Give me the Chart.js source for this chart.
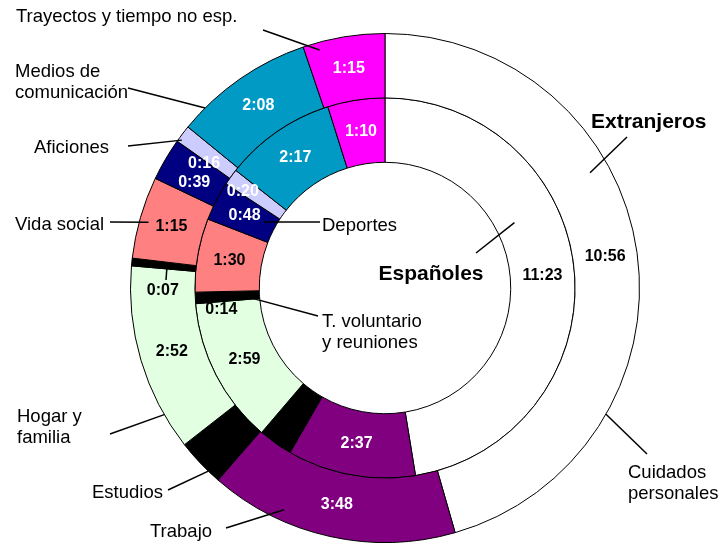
<!DOCTYPE html>
<html>
<head>
<meta charset="utf-8">
<script src="https://cdn.jsdelivr.net/npm/chart.js@4.4.1/dist/chart.umd.min.js"></script>
<style>
  html, body { margin: 0; padding: 0; background: #fff; }
  #wrap { width: 720px; height: 544px; position: relative; }
</style>
</head>
<body>
<div id="wrap"><canvas id="grafico"></canvas></div>
<script>
// Minutos por día (Extranjeros = anillo exterior, Españoles = anillo interior)
var categorias = ['Cuidados personales', 'Trabajo', 'Estudios', 'Hogar y familia',
    'T. voluntario y reuniones', 'Vida social', 'Deportes', 'Aficiones',
    'Medios de comunicación', 'Trayectos y tiempo no esp.'];
var extranjeros = [656, 228, 44, 172, 7, 75, 39, 16, 128, 75];
var espanoles = [683, 157, 42, 179, 14, 90, 48, 20, 137, 70];
var colores = ['#FFFFFF', '#800080', '#000000', '#E2FFE2', '#000000',
    '#FF8080', '#000080', '#CCCCFF', '#009AC4', '#FF00FF'];
// color del texto del valor; null = sin etiqueta
var colorTexto = ['#000', '#fff', null, '#000', '#000', '#000', '#fff', '#fff', '#fff', '#fff'];

// desplazamientos de etiquetas que Excel movió fuera del sector
var ajusteExt = { 4: [-1, 25], 6: [1, 7], 7: [-4, 10] };
var ajusteEsp = { 4: [-6, 13], 7: [-14, -4] };

// anotaciones: anillo, índice, fracción de ángulo y radial del punto en el sector, extremo del lado del texto
var notas = [
    { ds: 0, i: 9, fa: 0.18, fr: 0.88, lx: 263, ly: 30, lineas: ['Trayectos y tiempo no esp.'], tx: 16, ty: 17, al: 'left' },
    { ds: 0, i: 8, fa: 0.18, fr: 1.0, lx: 128, ly: 88, lineas: ['Medios de', 'comunicación'], tx: 15, ty: 72, al: 'left' },
    { ds: 0, i: 7, fa: 0.2, fr: 0.95, lx: 128, ly: 146, lineas: ['Aficiones'], tx: 34, ty: 148, al: 'left' },
    { ds: 0, i: 5, fa: 0.47, fr: 0.86, lx: 110, ly: 222, lineas: ['Vida social'], tx: 15, ty: 225, al: 'left' },
    { ds: 1, i: 6, fa: 0.61, fr: 0.19, lx: 320, ly: 222, lineas: ['Deportes'], tx: 322, ty: 226, al: 'left' },
    { ds: 1, i: 4, fa: 0.45, fr: 0.25, lx: 318, ly: 316, lineas: ['T. voluntario', 'y reuniones'], tx: 322, ty: 322, al: 'left' },
    { ds: 0, i: 4, fa: 0.5, fr: 0.45, lx: 166, ly: 280, lineas: [], tx: 0, ty: 0, al: 'left' },
    { ds: 0, i: 3, fa: 0.19, fr: 1.0, lx: 110, ly: 434, lineas: ['Hogar y', 'familia'], tx: 17, ty: 417, al: 'left' },
    { ds: 0, i: 2, fa: 0.27, fr: 1.0, lx: 168, ly: 490, lineas: ['Estudios'], tx: 92, ty: 493, al: 'left' },
    { ds: 0, i: 1, fa: 0.71, fr: 0.83, lx: 226, ly: 528, lineas: ['Trabajo'], tx: 150, ty: 532, al: 'left' },
    { ds: 0, i: 0, fa: 0.73, fr: 1.0, lx: 647, ly: 454, lineas: ['Cuidados', 'personales'], tx: 628, ty: 473, al: 'left' },
    { ds: 0, i: 0, fa: 0.37, fr: 0.7, lx: 627, ly: 137, lineas: ['Extranjeros'], tx: 591, ty: 122, al: 'left', negrita: true },
    { ds: 1, i: 0, fa: 0.37, fr: 0.3, lx: 476, ly: 253, lineas: ['Españoles'], tx: 431, ty: 274, al: 'center', negrita: true }
];

function formatoHora(min) {
    var m = min % 60;
    return Math.floor(min / 60) + ':' + (m < 10 ? '0' : '') + m;
}

var etiquetasPlugin = {
    id: 'etiquetas',
    afterDatasetsDraw: function (chart) {
        var ctx = chart.ctx;
        ctx.save();

        // valores dentro de cada sector
        ctx.font = 'bold 16px "Liberation Sans", Arial, sans-serif';
        ctx.textAlign = 'center';
        ctx.textBaseline = 'middle';
        [extranjeros, espanoles].forEach(function (serie, ds) {
            var meta = chart.getDatasetMeta(ds);
            var ajuste = ds === 0 ? ajusteExt : ajusteEsp;
            serie.forEach(function (v, i) {
                if (!colorTexto[i]) return;
                var p = meta.data[i].tooltipPosition();
                var d = ajuste[i] || [0, 0];
                ctx.fillStyle = colorTexto[i];
                ctx.fillText(formatoHora(v), p.x + d[0], p.y + d[1]);
            });
        });

        // nombres con líneas guía
        ctx.strokeStyle = '#000';
        ctx.lineWidth = 1.5;
        ctx.fillStyle = '#000';
        notas.forEach(function (n) {
            var arc = chart.getDatasetMeta(n.ds).data[n.i];
            var a = arc.startAngle + n.fa * (arc.endAngle - arc.startAngle);
            var r = arc.innerRadius + n.fr * (arc.outerRadius - arc.innerRadius);
            var px = arc.x + r * Math.cos(a);
            var py = arc.y + r * Math.sin(a);
            ctx.beginPath();
            ctx.moveTo(n.lx, n.ly);
            ctx.lineTo(px, py);
            ctx.stroke();
            ctx.font = (n.negrita ? 'bold 21px ' : '18.5px ') + '"Liberation Sans", Arial, sans-serif';
            ctx.textAlign = n.al;
            n.lineas.forEach(function (t, k) {
                ctx.fillText(t, n.tx, n.ty + k * 21);
            });
        });
        ctx.restore();
    }
};

new Chart(document.getElementById('grafico'), {
    type: 'doughnut',
    data: {
        labels: categorias,
        datasets: [
            { label: 'Extranjeros', data: extranjeros, backgroundColor: colores, borderColor: '#000', borderWidth: 1 },
            { label: 'Españoles', data: espanoles, backgroundColor: colores, borderColor: '#000', borderWidth: 1 }
        ]
    },
    options: {
        responsive: true,
        maintainAspectRatio: false,
        animation: false,
        cutout: '49.4%',
        layout: { padding: { left: 130, right: 80, top: 33, bottom: 1 } },
        plugins: {
            legend: { display: false },
            tooltip: { enabled: false }
        }
    },
    plugins: [etiquetasPlugin]
});
</script>
</body>
</html>
